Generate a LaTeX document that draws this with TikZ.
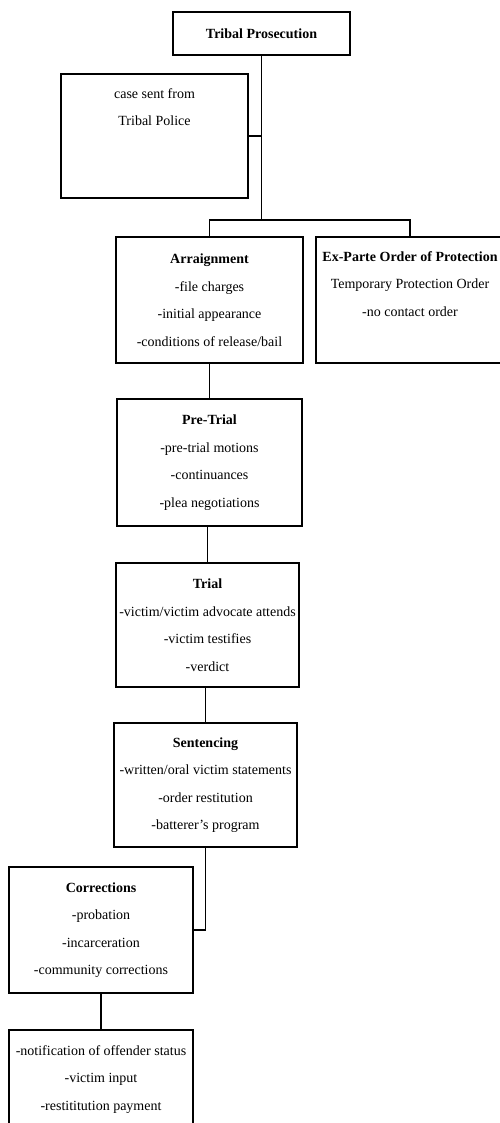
\documentclass[tikz,border=0pt]{standalone}
\usepackage{fontspec}
\setmainfont{Liberation Serif}
\usetikzlibrary{positioning}

\begin{document}
\begin{tikzpicture}[x=1pt,y=-1pt,line width=1.2pt,
		stagebox/.style={draw,align=center,inner sep=0pt,font=\fontsize{14}{27.5}\selectfont},
		toptext/.style={align=center,font=\fontsize{14}{27.5}\selectfont}]
		\useasboundingbox (0,0) rectangle (500,1123);
		%
		\node[stagebox,minimum width=177,minimum height=43] (prosec) at (261.5,33.5) {\textbf{Tribal Prosecution}};
		\node[stagebox,minimum width=187,minimum height=124] (case) at (154.5,136) {};
		\node[toptext,below=11pt of case.north] (casetext) {case sent from\\Tribal Police};
		%
		\node[stagebox,minimum width=187,minimum height=126] (arraign) at (209.5,300) {\textbf{Arraignment}\\-file charges\\-initial appearance\\-conditions of release/bail};
		\node[stagebox,minimum width=188,minimum height=126] (exparte) at (410,300) {};
		\node[toptext,below=11pt of exparte.north] (exparttext) {\textbf{Ex-Parte Order of Protection}\\Temporary Protection Order\\-no contact order};
		%
		\node[stagebox,minimum width=185,minimum height=127] (pretrial) at (209.5,462.5) {\textbf{Pre-Trial}\\-pre-trial motions\\-continuances\\-plea negotiations};
		\node[stagebox,minimum width=183,minimum height=124] (trial) at (207.5,625) {\textbf{Trial}\\-victim/victim advocate attends\\-victim testifies\\-verdict};
		\node[stagebox,minimum width=183,minimum height=124] (sentencing) at (205.5,785) {\textbf{Sentencing}\\-written/oral victim statements\\-order restitution\\-batterer's program};
		\node[stagebox,minimum width=184,minimum height=126] (corrections) at (101,930) {\textbf{Corrections}\\-probation\\-incarceration\\-community corrections};
		\node[stagebox,minimum width=184,minimum height=126] (notify) at (101,1093) {};
		\node[toptext,below=12pt of notify.north] (notifytext) {-notification of offender status\\-victim input\\-restititution payment};
		%
		\coordinate (bar) at (260,220);
		\draw (prosec.south) -- (prosec.south |- bar);
		\draw (case.east) -- (case.east -| prosec.south);
		\draw (arraign.north) -- (arraign.north |- bar) -- (exparte.north |- bar) -- (exparte.north);
		\draw (arraign.south) -- (arraign.south |- pretrial.north);
		\draw (trial.north) -- (trial.north |- pretrial.south);
		\draw (sentencing.north) -- (sentencing.north |- trial.south);
		\draw (sentencing.south) |- (corrections.east);
		\draw (corrections.south) -- (notify.north);
	\end{tikzpicture}
\end{document}
